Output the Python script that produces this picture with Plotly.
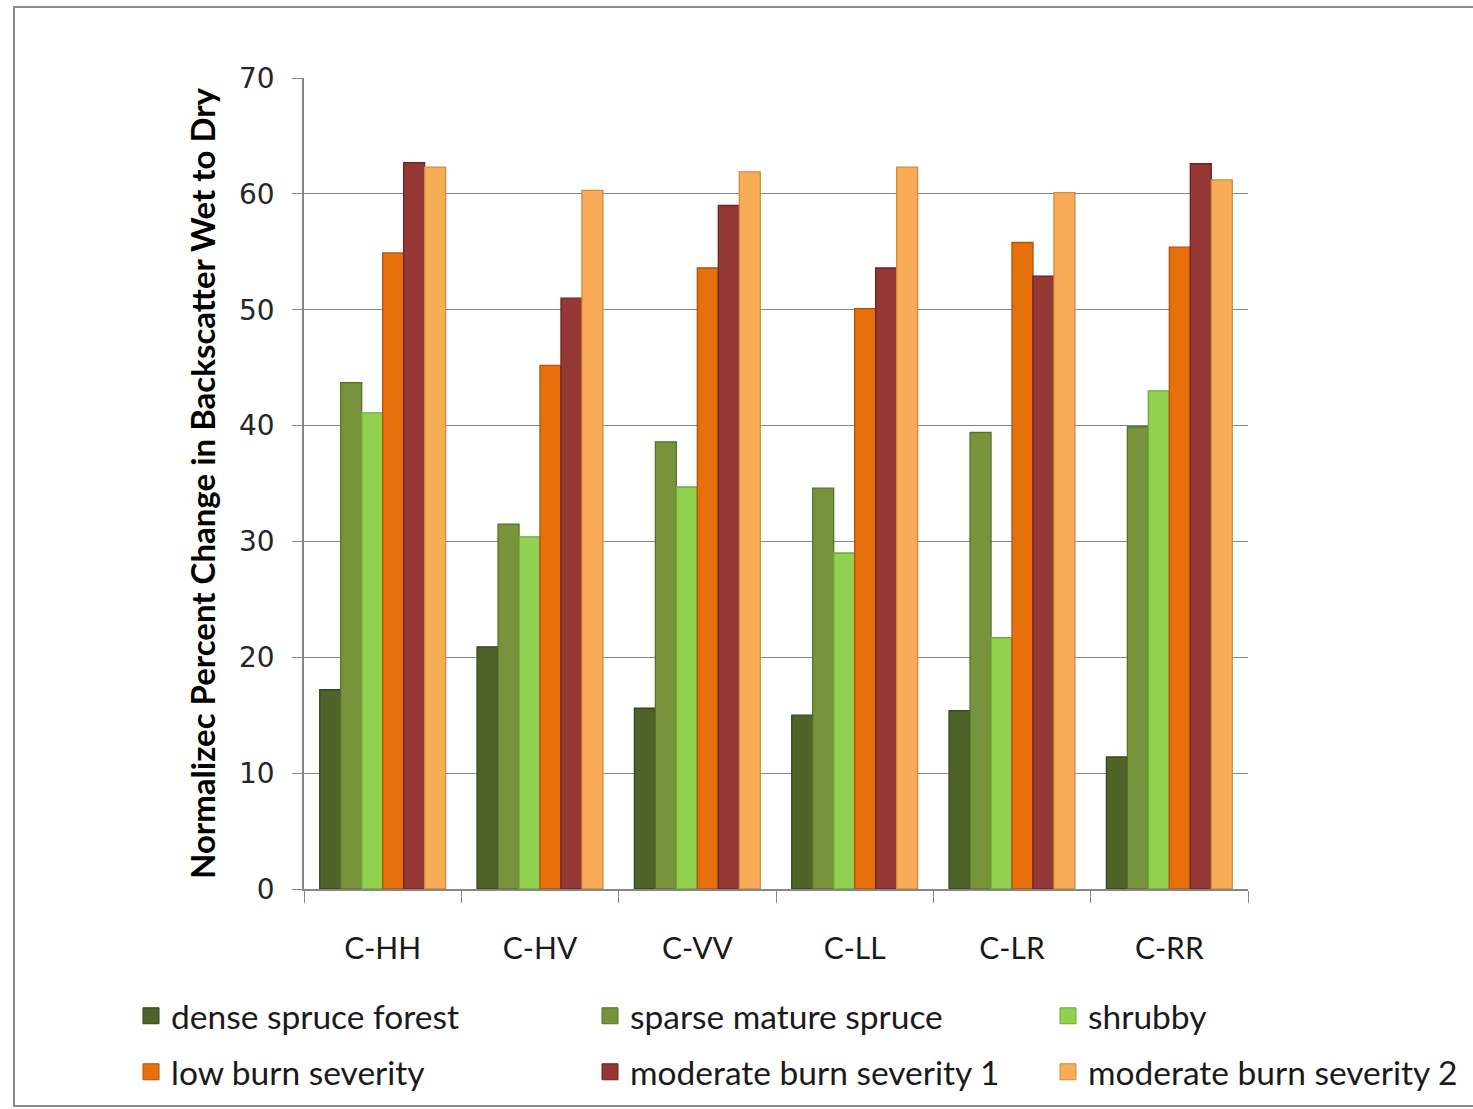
import plotly.graph_objects as go

# Polarimetric channels (categories on the x axis)
channels = ["C-HH", "C-HV", "C-VV", "C-LL", "C-LR", "C-RR"]

# Normalized percent change in backscatter, wet to dry, per land-cover class
dense_spruce_forest = [17.2, 20.9, 15.6, 15.0, 15.4, 11.4]
sparse_mature_spruce = [43.7, 31.5, 38.6, 34.6, 39.4, 39.9]
shrubby = [41.1, 30.4, 34.7, 29.0, 21.7, 43.0]
low_burn_severity = [54.9, 45.2, 53.6, 50.1, 55.8, 55.4]
moderate_burn_severity_1 = [62.7, 51.0, 59.0, 53.6, 52.9, 62.6]
moderate_burn_severity_2 = [62.3, 60.3, 61.9, 62.3, 60.1, 61.2]

series_names = [
    "dense spruce forest",
    "sparse mature spruce",
    "shrubby",
    "low burn severity",
    "moderate burn severity 1",
    "moderate burn severity 2",
]
series_values = [
    dense_spruce_forest,
    sparse_mature_spruce,
    shrubby,
    low_burn_severity,
    moderate_burn_severity_1,
    moderate_burn_severity_2,
]
fill_colors = ["#4F6228", "#77933C", "#92D050", "#E8700C", "#953735", "#F9AC58"]
edge_colors = ["#35441A", "#57702A", "#6FA83A", "#B05208", "#6A2424", "#CF8A3E"]

W, H = 1473, 1109
L, R, T, B = 304, W - 1248, 78, H - 889
pw, ph = W - L - R, H - T - B


def px_to_paper_x(px):
    return (px - L) / pw


def px_to_paper_y(py):
    return (H - B - py) / ph


# legend grid: 3 columns x 2 rows (entry left edge, row centre), in pixels
legend_cols = [131, 590, 1048]
legend_rows = [1016, 1072]

fig = go.Figure()
legend_layouts = {}
for i, (name, vals, fc, ec) in enumerate(zip(series_names, series_values, fill_colors, edge_colors)):
    legend_id = "legend" if i == 0 else f"legend{i + 1}"
    fig.add_trace(go.Bar(
        x=channels, y=vals, name=name, showlegend=False,
        marker=dict(color=fc, line=dict(color=ec, width=1.3)),
    ))
    # legend key: square swatch in the series colour
    fig.add_trace(go.Scatter(
        x=[None], y=[None], name=name, mode="markers", legend=legend_id,
        marker=dict(symbol="square", size=16, color=fc, line=dict(color=ec, width=1)),
    ))
    col, row = i % 3, i // 3
    legend_layouts[legend_id] = dict(
        x=px_to_paper_x(legend_cols[col]), xanchor="left",
        y=px_to_paper_y(legend_rows[row]), yanchor="middle",
        bgcolor="rgba(0,0,0,0)",
        font=dict(family="Lato, Open Sans, sans-serif", size=33.5, color="#1a1a1a"),
        itemsizing="trace",
    )

axis_gray = "#868686"

fig.update_layout(
    width=W, height=H,
    margin=dict(l=L, r=R, t=T, b=B, autoexpand=False),
    paper_bgcolor="white", plot_bgcolor="white",
    barmode="group", bargap=0.2, bargroupgap=0.0,
    font=dict(family="Lato, Open Sans, sans-serif", color="#1a1a1a"),
    showlegend=True,
    **legend_layouts,
)

fig.update_yaxes(
    range=[0, 70], dtick=10,
    showgrid=True, gridcolor=axis_gray, gridwidth=1,
    showline=True, linecolor=axis_gray, linewidth=1.5,
    ticks="outside", ticklen=10, tickcolor=axis_gray,
    ticklabelstandoff=12,
    tickfont=dict(family="DejaVu Sans, Verdana, sans-serif", size=28, color="#262626"),
    zeroline=False,
    title=dict(
        text="<b>Normalizec Percent Change in Backscatter Wet to Dry</b>",
        font=dict(family="Lato, Open Sans, sans-serif", size=33, color="black"),
        standoff=13,
    ),
)
fig.update_xaxes(
    showgrid=False,
    showline=True, linecolor=axis_gray, linewidth=1.5,
    ticks="outside", ticklen=12, tickcolor=axis_gray, tickson="boundaries",
    tickfont=dict(family="Lato, Open Sans, sans-serif", size=30, color="#1a1a1a"),
    ticklabelstandoff=32,
)

# chart frame
fig.add_shape(
    type="rect", xref="paper", yref="paper",
    x0=px_to_paper_x(14), x1=px_to_paper_x(1490),
    y0=px_to_paper_y(1106), y1=px_to_paper_y(7),
    line=dict(color="#8c8c8c", width=2), fillcolor="rgba(0,0,0,0)", layer="below",
)

fig.write_html("out.html")
